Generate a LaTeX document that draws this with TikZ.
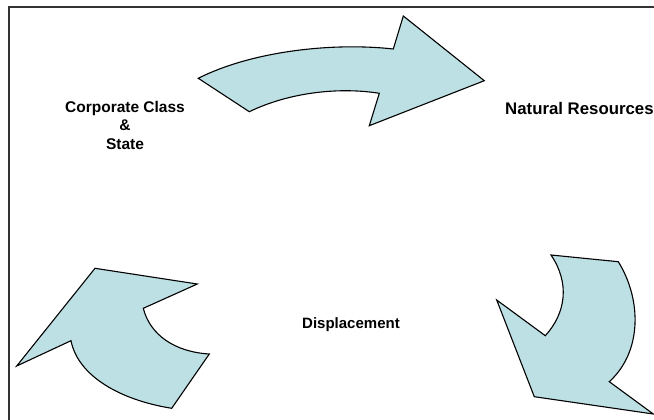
\documentclass[tikz,border=0pt]{standalone}
\usepackage{fontspec}
\setmainfont{Liberation Sans}
\begin{document}
\begin{tikzpicture}[x=1pt,y=-1pt,
  arrowshape/.style={draw=black,line width=1.1pt,fill=arrowfill,line join=miter},
  lbl/.style={font=\fontsize{15}{18}\selectfont\bfseries,inner sep=0pt,align=center}]
\definecolor{arrowfill}{RGB}{189,224,228}
\useasboundingbox (0,0) rectangle (654,420);
% frame
\coordinate (fb) at (9,420);
\coordinate (fc) at (9,7);
\coordinate (fr) at (654,7);
\draw[line width=1.2pt,color=black!80] (fb) -- (fc) -- (fr);
% top arrow
\path[arrowshape] (198.3,78.3) -- (249.3,111.7)
  .. controls (290,92) and (340,87) .. (379.3,93.3)
  -- (369.3,125.7) -- (484.3,80.7) -- (403.3,16) -- (393.3,49)
  .. controls (330,42) and (250,52) .. cycle;
% bottom-right arrow
\path[arrowshape] (551,255) -- (618.3,261.7)
  .. controls (642,300) and (642,352) .. (609.3,381.7)
  -- (653.3,414) -- (534.3,396.7) -- (496.7,300) -- (545.3,335.7)
  .. controls (566,313) and (570,283) .. cycle;
% bottom-left arrow
\path[arrowshape] (95,268.3) -- (197.3,284) -- (143.3,308.3)
  .. controls (150,335) and (175,352) .. (209.3,354)
  -- (171.7,408.3)
  .. controls (120,400) and (78,376) .. (71,340.7)
  -- (16.7,366) -- cycle;
% labels
\node[lbl,font=\fontsize{15.5}{18.5}\selectfont\bfseries] (corp) at (125,125) {Corporate Class\\\&\\State};
\node[lbl,anchor=west,font=\fontsize{16.8}{20}\selectfont\bfseries] (nat) at (505,108) {Natural Resources};
\node[lbl] (disp) at (351,325) {Displacement};
\end{tikzpicture}
\end{document}
